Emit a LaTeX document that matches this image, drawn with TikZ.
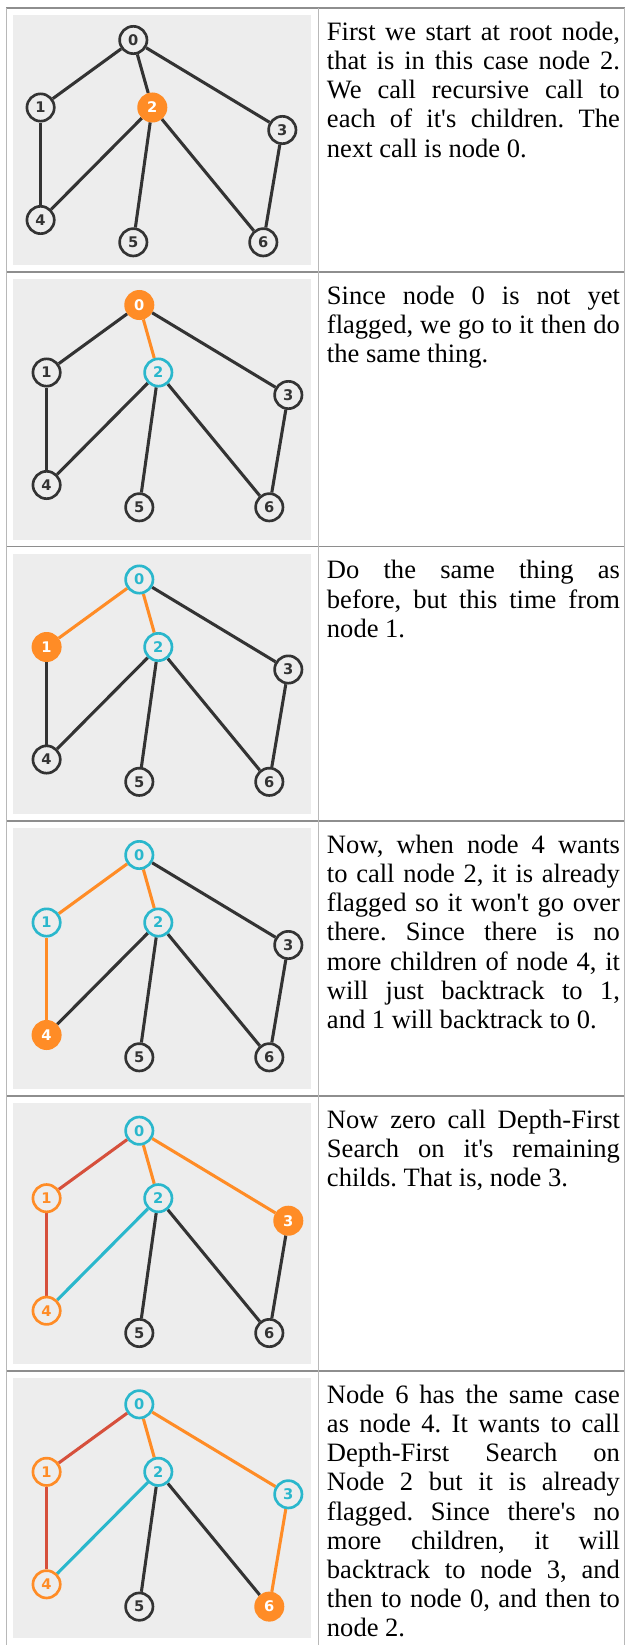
\documentclass[tikz,border=0pt]{standalone}
\usepackage{fontspec}
\setmainfont{Liberation Serif}[Ligatures=TeXOff]
\newfontfamily\digitfont{DejaVu Sans}
\usetikzlibrary{backgrounds}

\definecolor{ink}{HTML}{333333}
\definecolor{panelgray}{HTML}{EDEDED}
\definecolor{dfsorange}{HTML}{FF8C26}
\definecolor{dfscyan}{HTML}{2AB7CC}
\definecolor{dfsred}{HTML}{D6503C}
\definecolor{rulegray}{HTML}{8E8E8E}
\definecolor{rulelight}{HTML}{B8B8B8}

\pgfdeclarelayer{paper}
\pgfdeclarelayer{wires}
\pgfsetlayers{paper,wires,main}

\tikzset{
  vtx/.style={circle, draw=ink, fill=panelgray, text=ink, line width=2pt,
    minimum size=20.5pt, inner sep=0pt,
    font=\digitfont\bfseries\fontsize{11}{11}\selectfont},
  vidle/.style={vtx},
  vseen/.style={vtx, draw=dfscyan, text=dfscyan},
  vdone/.style={vtx, draw=dfsorange, text=dfsorange},
  vcur/.style={vtx, draw=dfsorange, fill=dfsorange, text=white},
  link/.style={line width=2.3pt},
  edark/.style={link, draw=ink},
  eorange/.style={link, draw=dfsorange},
  ecyan/.style={link, draw=dfscyan},
  ered/.style={link, draw=dfsred},
  n0/.style={vidle}, n1/.style={vidle}, n2/.style={vidle}, n3/.style={vidle},
  n4/.style={vidle}, n5/.style={vidle}, n6/.style={vidle},
  e01/.style={edark}, e02/.style={edark}, e03/.style={edark}, e14/.style={edark},
  e24/.style={edark}, e25/.style={edark}, e26/.style={edark}, e36/.style={edark},
  panel/.style={fill=panelgray},
  caption/.style={anchor=north west, inner sep=0pt, text width=219.75pt,
    align=justify,
    font={\fontsize{19.9}{21.9}\selectfont\frenchspacing\hyphenpenalty=10000
      \exhyphenpenalty=10000 \tolerance=10000 }},
  hrule/.style={draw=rulegray, line width=1pt},
  vrule/.style={draw=rulelight, line width=0.75pt},
}

% One drawing of the seven-vertex graph; vertex and edge looks come from n*/e* styles
\newcommand\dfsgraph[1]{%
  \node[n0] (#1-0) at (0,0) {0};
  \node[n1] (#1-1) at (-92.7,67.5) {1};
  \node[n2] (#1-2) at (19,67.5) {2};
  \node[n3] (#1-3) at (149,90) {3};
  \node[n4] (#1-4) at (-92.7,180) {4};
  \node[n5] (#1-5) at (0,202.3) {5};
  \node[n6] (#1-6) at (130,202.3) {6};
  \begin{pgfonlayer}{wires}
    \draw[e01] (#1-0) -- (#1-1);
    \draw[e02] (#1-0) -- (#1-2);
    \draw[e03] (#1-0) -- (#1-3);
    \draw[e14] (#1-1) -- (#1-4);
    \draw[e24] (#1-2) -- (#1-4);
    \draw[e25] (#1-2) -- (#1-5);
    \draw[e26] (#1-2) -- (#1-6);
    \draw[e36] (#1-3) -- (#1-6);
  \end{pgfonlayer}
}

\begin{document}
\begin{tikzpicture}[x=0.75pt,y=-0.75pt]
\useasboundingbox (0,0) rectangle (625,1645);

% table rules
\foreach \yy in {8,272,546.5,821,1096,1371}
  \draw[hrule] (6,\yy) -- (624.5,\yy);
\foreach \xx in {6.5,318,624.5}
  \draw[vrule] (\xx,8) -- (\xx,1645);

% grey panels behind the graphs
\begin{pgfonlayer}{paper}
  \fill[panel] (13,15) rectangle (311,265);
  \fill[panel] (13,279) rectangle (311,539.5);
  \fill[panel] (13,553.5) rectangle (311,814);
  \fill[panel] (13,828) rectangle (311,1089);
  \fill[panel] (13,1103) rectangle (311,1364);
  \fill[panel] (13,1378) rectangle (311,1638);
\end{pgfonlayer}

% step 1
\begin{scope}[shift={(133.3,40)}, n2/.style={vcur}]
  \dfsgraph{a}
\end{scope}
\node[caption] (ta) at (326.7,19.6) {\noindent\strut First we start at root node,\linebreak
that is in this case node 2.\linebreak
We call recursive call to\linebreak
each of it's children. The\linebreak
next call is node 0.};

% step 2
\begin{scope}[shift={(139.3,305)}, n0/.style={vcur}, n2/.style={vseen},
  e02/.style={eorange}]
  \dfsgraph{b}
\end{scope}
\node[caption] (tb) at (326.7,283.6) {\noindent\strut Since node 0 is not yet\linebreak
flagged, we go to it then do\linebreak
the same thing.};

% step 3
\begin{scope}[shift={(139.3,579.5)}, n0/.style={vseen}, n1/.style={vcur},
  n2/.style={vseen}, e01/.style={eorange}, e02/.style={eorange}]
  \dfsgraph{c}
\end{scope}
\node[caption] (tc) at (326.7,558.1) {\noindent\strut Do the same thing as\linebreak
before, but this time from\linebreak
node 1.};

% step 4
\begin{scope}[shift={(139.3,855)}, n0/.style={vseen}, n1/.style={vseen},
  n2/.style={vseen}, n4/.style={vcur},
  e01/.style={eorange}, e02/.style={eorange}, e14/.style={eorange}]
  \dfsgraph{d}
\end{scope}
\node[caption] (td) at (326.7,832.6) {\noindent\strut Now, when node 4 wants\linebreak
to call node 2, it is already\linebreak
flagged so it won't go over\linebreak
there. Since there is no\linebreak
more children of node 4, it\linebreak
will just backtrack to 1,\linebreak
and 1 will backtrack to 0.};

% step 5
\begin{scope}[shift={(139.3,1130.7)}, n0/.style={vseen}, n1/.style={vdone},
  n2/.style={vseen}, n3/.style={vcur}, n4/.style={vdone},
  e01/.style={ered}, e14/.style={ered}, e02/.style={eorange},
  e03/.style={eorange}, e24/.style={ecyan}]
  \dfsgraph{e}
\end{scope}
\node[caption] (te) at (326.7,1107.6) {\noindent\strut Now zero call Depth-First\linebreak
Search on it's remaining\linebreak
childs. That is, node 3.};

% step 6
\begin{scope}[shift={(139.3,1404.3)}, n0/.style={vseen}, n1/.style={vdone},
  n2/.style={vseen}, n3/.style={vseen}, n4/.style={vdone}, n6/.style={vcur},
  e01/.style={ered}, e14/.style={ered}, e02/.style={eorange},
  e03/.style={eorange}, e24/.style={ecyan}, e36/.style={eorange}]
  \dfsgraph{f}
\end{scope}
\node[caption] (tf) at (326.7,1382.6) {\noindent\strut Node 6 has the same case\linebreak
as node 4. It wants to call\linebreak
Depth-First Search on\linebreak
Node 2 but it is already\linebreak
flagged. Since there's no\linebreak
more children, it will\linebreak
backtrack to node 3, and\linebreak
then to node 0, and then to\linebreak
node 2.};
\end{tikzpicture}
\end{document}
